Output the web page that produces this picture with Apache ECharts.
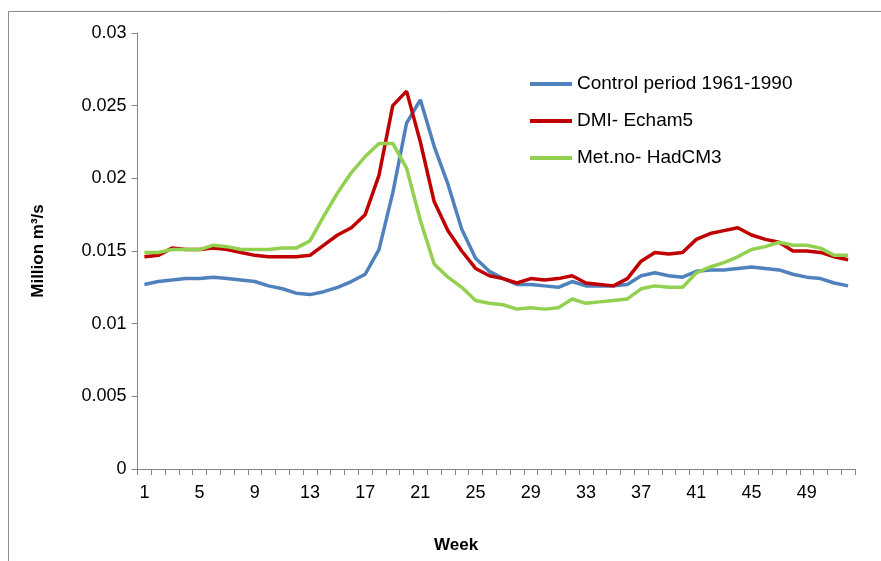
<!DOCTYPE html>
<html>
<head>
<meta charset="utf-8">
<script src="https://cdn.jsdelivr.net/npm/echarts@6/dist/echarts.min.js"></script>
<style>
  html, body { margin: 0; padding: 0; background: #fff; }
  #chart { width: 881px; height: 561px; }
</style>
</head>
<body>
<div id="chart"></div>
<script>
// Weekly discharge, million m³/s
const weeks = Array.from({ length: 52 }, (_, i) => String(i + 1));

const control = [
  0.0127, 0.0129, 0.0130, 0.0131, 0.0131, 0.0132, 0.0131, 0.0130, 0.0129, 0.0126,
  0.0124, 0.0121, 0.0120, 0.0122, 0.0125, 0.0129, 0.0134, 0.0151, 0.0190, 0.0238,
  0.0254, 0.0222, 0.0196, 0.0165, 0.0145, 0.0136, 0.0131, 0.0127, 0.0127, 0.0126,
  0.0125, 0.0129, 0.0126, 0.0126, 0.0126, 0.0127, 0.0133, 0.0135, 0.0133, 0.0132,
  0.0136, 0.0137, 0.0137, 0.0138, 0.0139, 0.0138, 0.0137, 0.0134, 0.0132, 0.0131,
  0.0128, 0.0126
];

const dmi = [
  0.0146, 0.0147, 0.0152, 0.0151, 0.0151, 0.0152, 0.0151, 0.0149, 0.0147, 0.0146,
  0.0146, 0.0146, 0.0147, 0.0154, 0.0161, 0.0166, 0.0175, 0.0202, 0.0250, 0.0260,
  0.0225, 0.0184, 0.0164, 0.0150, 0.0138, 0.0133, 0.0131, 0.0128, 0.0131, 0.0130,
  0.0131, 0.0133, 0.0128, 0.0127, 0.0126, 0.0131, 0.0143, 0.0149, 0.0148, 0.0149,
  0.0158, 0.0162, 0.0164, 0.0166, 0.0161, 0.0158, 0.0156, 0.0150, 0.0150, 0.0149,
  0.0146, 0.0144
];

const metno = [
  0.0149, 0.0149, 0.0151, 0.0151, 0.0151, 0.0154, 0.0153, 0.0151, 0.0151, 0.0151,
  0.0152, 0.0152, 0.0157, 0.0174, 0.0190, 0.0204, 0.0215, 0.0224, 0.0224, 0.0207,
  0.0171, 0.0141, 0.0132, 0.0125, 0.0116, 0.0114, 0.0113, 0.0110, 0.0111, 0.0110,
  0.0111, 0.0117, 0.0114, 0.0115, 0.0116, 0.0117, 0.0124, 0.0126, 0.0125, 0.0125,
  0.0135, 0.0139, 0.0142, 0.0146, 0.0151, 0.0153, 0.0156, 0.0154, 0.0154, 0.0152,
  0.0147, 0.0147
];

const seriesNames = ['Control period 1961-1990', 'DMI- Echam5', 'Met.no- HadCM3'];
const seriesColors = ['#4F81BD', '#C00000', '#92D050'];
const seriesData = [control, dmi, metno];

const font = "'Liberation Sans', 'DejaVu Sans', sans-serif";
const axisGray = '#868686';

const chart = echarts.init(document.getElementById('chart'), null, { renderer: 'canvas' });

chart.setOption({
  animation: false,
  backgroundColor: '#fff',
  textStyle: { fontFamily: font },
  grid: { left: 137.5, right: 26, top: 33, bottom: 92 },
  legend: {
    orient: 'vertical',
    left: 530,
    top: 74,
    padding: 0,
    itemWidth: 42,
    itemHeight: 4,
    itemGap: 17,
    icon: 'rect',
    textStyle: { fontSize: 19, color: '#000', lineHeight: 20, fontFamily: font },
    data: seriesNames
  },
  xAxis: {
    type: 'category',
    data: weeks,
    boundaryGap: true,
    axisLine: { lineStyle: { color: axisGray, width: 1 } },
    axisTick: { show: true, interval: 0, length: 6, lineStyle: { color: axisGray } },
    axisLabel: { interval: 3, margin: 15, fontSize: 18, color: '#000', fontFamily: font },
    splitLine: { show: false }
  },
  yAxis: {
    type: 'value',
    min: 0,
    max: 0.03,
    interval: 0.005,
    name: 'Million m³/s',
    nameLocation: 'middle',
    nameGap: 91,
    nameTextStyle: { fontSize: 17, fontWeight: 'bold', color: '#000', fontFamily: font },
    axisLine: { show: true, lineStyle: { color: axisGray, width: 1 } },
    axisTick: { show: true, length: 6, lineStyle: { color: axisGray } },
    axisLabel: { margin: 11, fontSize: 18, color: '#000', fontFamily: font },
    splitLine: { show: false }
  },
  graphic: [
    {
      type: 'rect',
      shape: { x: 8.5, y: 11.5, width: 900, height: 600 },
      style: { fill: 'none', stroke: '#8c8c8c', lineWidth: 1 },
      silent: true
    },
    {
      type: 'text',
      left: 434,
      top: 537,
      style: { text: 'Week', font: "bold 17px 'Liberation Sans', sans-serif", fill: '#000' }
    }
  ],
  series: seriesNames.map((name, i) => ({
    name,
    type: 'line',
    data: seriesData[i],
    symbol: 'none',
    smooth: false,
    lineStyle: { color: seriesColors[i], width: 3.5 },
    itemStyle: { color: seriesColors[i] }
  }))
});
</script>
</body>
</html>
